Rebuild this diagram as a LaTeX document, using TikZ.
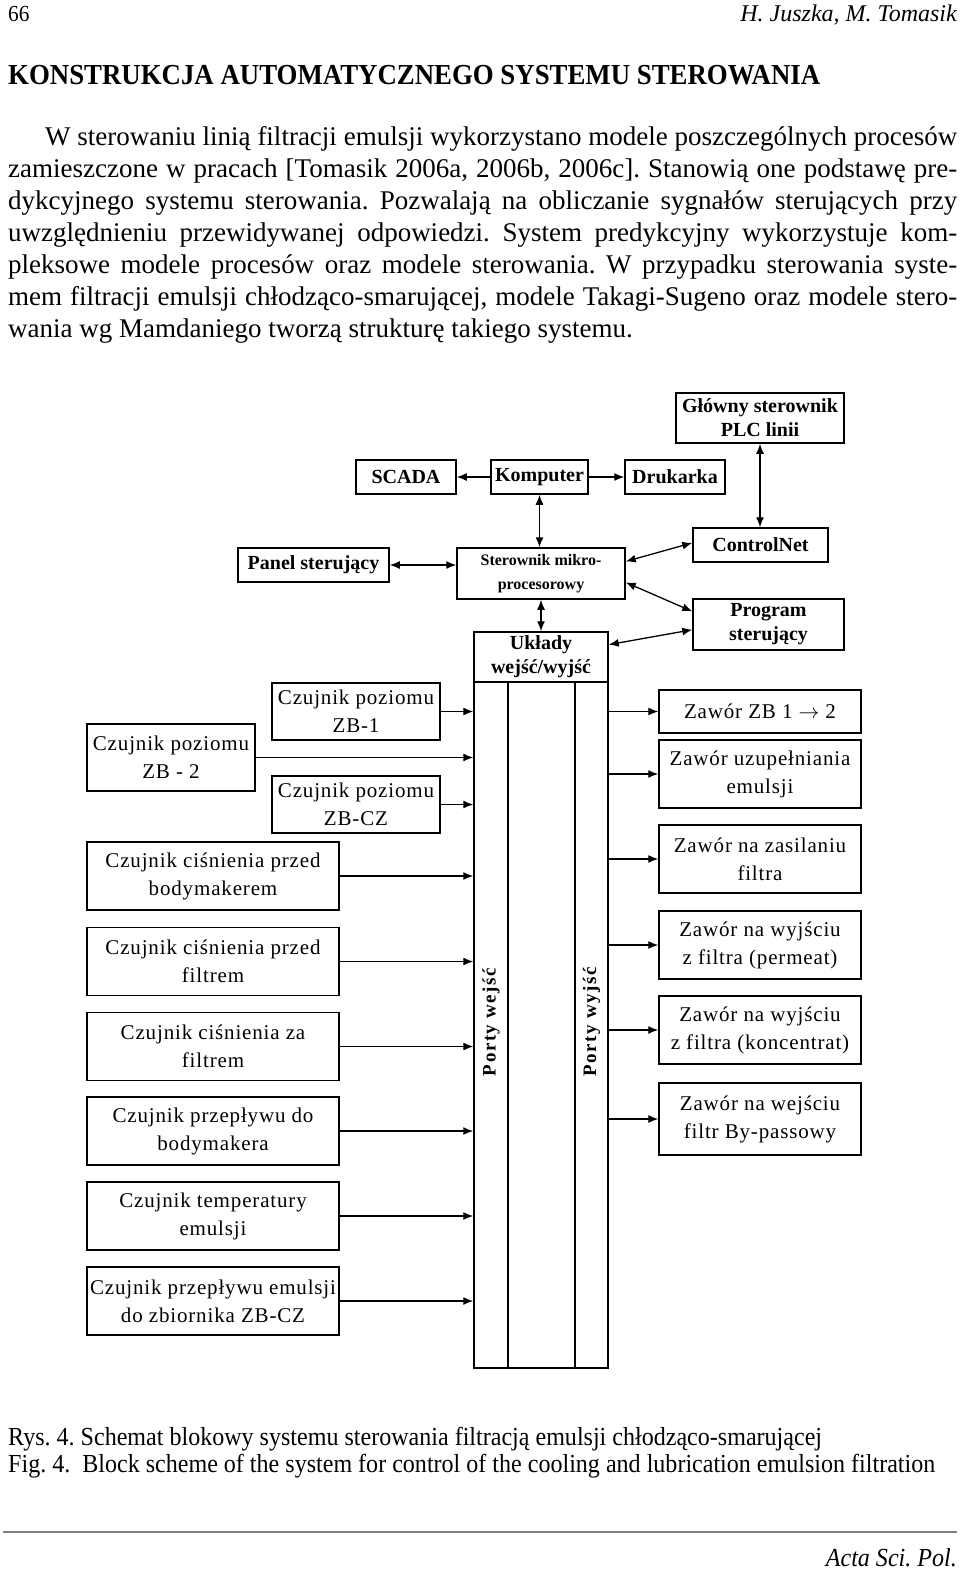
\documentclass[tikz,border=0pt]{standalone}
\usepackage{fontspec}
\setmainfont[FakeStretch=0.925]{Liberation Serif}
\newfontfamily\boxfont[LetterSpace=4]{Liberation Serif}
\newfontfamily\headfont{Liberation Serif}
\newfontfamily\portfont[LetterSpace=8]{Liberation Serif}
\usetikzlibrary{arrows.meta,calc}
\frenchspacing

\begin{document}
\begin{tikzpicture}[x=1pt,y=-1pt,
	blok/.style={draw,line width=1.5pt,inner sep=0pt,align=center,font=\boxfont\fontsize{21}{28}\selectfont},
	gblok/.style={draw,line width=1.5pt,inner sep=0pt,align=center,font=\headfont\bfseries\fontsize{20}{24}\selectfont},
	jed/.style={line width=1.3pt,-{Latex[length=10pt,width=8pt]}},
	dwu/.style={line width=1.3pt,{Latex[length=10pt,width=8pt]}-{Latex[length=10pt,width=8pt]}},
	tekst/.style={anchor=base west,inner sep=0pt,font=\headfont\fontsize{27}{32}\selectfont}]
		\useasboundingbox[fill=white] (0,0) rectangle (960,1569);
		% naglowek strony
		\node[anchor=base west,inner sep=0pt,font=\fontsize{23}{26}\selectfont] (nrstr) at (8,21) {66};
		\node[anchor=base east,inner sep=0pt,font=\headfont\fontsize{24}{26}\selectfont\itshape] (autorzy) at (957,21) {H. Juszka, M. Tomasik};
		\node[anchor=base west,inner sep=0pt,font=\fontsize{29}{34}\selectfont\bfseries] (tytul) at (8,84) {KONSTRUKCJA AUTOMATYCZNEGO SYSTEMU STEROWANIA};
		% akapit
		\node[tekst] (w1) at (45,145) {\makebox[912pt][s]{W sterowaniu linią filtracji emulsji wykorzystano modele poszczególnych procesów}};
		\node[tekst] (w2) at (8,177) {\makebox[949pt][s]{zamieszczone w pracach [Tomasik 2006a, 2006b, 2006c]. Stanowią one podstawę pre-}};
		\node[tekst] (w3) at (8,209) {\makebox[949pt][s]{dykcyjnego systemu sterowania. Pozwalają na obliczanie sygnałów sterujących przy}};
		\node[tekst] (w4) at (8,241) {\makebox[949pt][s]{uwzględnieniu przewidywanej odpowiedzi. System predykcyjny wykorzystuje kom-}};
		\node[tekst] (w5) at (8,273) {\makebox[949pt][s]{pleksowe modele procesów oraz modele sterowania. W przypadku sterowania syste-}};
		\node[tekst] (w6) at (8,305) {\makebox[949pt][s]{mem filtracji emulsji chłodząco-smarującej, modele Takagi-Sugeno oraz modele stero-}};
		\node[tekst] (w7) at (8,337) {wania wg Mamdaniego tworzą strukturę takiego systemu.};
		% gorna czesc schematu
		\node[gblok,minimum width=168pt,minimum height=50pt] (glowny) at (760,418) {Główny sterownik\\PLC linii};
		\node[gblok,minimum width=100pt,minimum height=34pt] (scada) at (406,477) {SCADA};
		\node[gblok,minimum width=97pt,minimum height=34pt] (komputer) at (539.5,477) {Komputer};
		\node[gblok,minimum width=100pt,minimum height=34pt] (drukarka) at (675,477) {Drukarka};
		\node[gblok,minimum width=151pt,minimum height=34pt] (panel) at (313.5,565) {Panel sterujący};
		\node[gblok,minimum width=168pt,minimum height=51pt,font=\headfont\bfseries\fontsize{16}{24}\selectfont] (mikro) at (541,573.5) {Sterownik mikro-\\procesorowy};
		\node[gblok,minimum width=135pt,minimum height=34pt] (controlnet) at (760.5,545) {ControlNet};
		\node[gblok,minimum width=151pt,minimum height=51pt] (program) at (768.5,624.5) {Program\\sterujący};
		\node[gblok,minimum width=134pt,minimum height=50pt] (uklady) at (541,657) {Układy\\wejść/wyjść};
		\node[draw,line width=1.5pt,minimum width=134pt,minimum height=686pt,inner sep=0pt] (porty) at (541,1025) {};
		\draw[line width=1.5pt] (508,682) -- (508,1368);
		\draw[line width=1.5pt] (575,682) -- (575,1368);
		\node[rotate=90,inner sep=0pt,font=\portfont\bfseries\fontsize{19}{22}\selectfont] (wejsc) at (491,1022) {Porty wejść};
		\node[rotate=90,inner sep=0pt,font=\portfont\bfseries\fontsize{19}{22}\selectfont] (wyjsc) at (591.5,1022) {Porty wyjść};
		\draw[jed] (komputer) -- (scada);
		\draw[jed] (komputer) -- (drukarka);
		\draw[dwu] (komputer.south) -- (komputer.south |- mikro.north);
		\draw[dwu] (glowny.south) -- (glowny.south |- controlnet.north);
		\draw[dwu] (panel.east) -- (panel.east -| mikro.west);
		\draw[dwu] ($(mikro.north east)!0.27!(mikro.south east)$) -- ($(controlnet.north west)!0.44!(controlnet.south west)$);
		\draw[dwu] ($(mikro.north east)!0.67!(mikro.south east)$) -- ($(program.north west)!0.25!(program.south west)$);
		\draw[dwu] (mikro.south) -- (mikro.south |- uklady.north);
		\draw[dwu] ($(uklady.north east)!0.26!(uklady.south east)$) -- ($(program.north west)!0.6!(program.south west)$);
		% czujniki
		\node[blok,minimum width=168pt,minimum height=57pt] (zb1) at (356,711.5) {Czujnik poziomu\\ZB-1};
		\node[blok,minimum width=168pt,minimum height=67pt] (zb2) at (171,757.5) {Czujnik poziomu\\ZB - 2};
		\node[blok,minimum width=168pt,minimum height=57pt] (zbcz) at (356,804.5) {Czujnik poziomu\\ZB-CZ};
		\node[blok,minimum width=252pt,minimum height=68pt] (cz1) at (213,876) {Czujnik ciśnienia przed\\bodymakerem};
		\node[blok,minimum width=252pt,minimum height=68pt] (cz2) at (213,961.5) {Czujnik ciśnienia przed\\filtrem};
		\node[blok,minimum width=252pt,minimum height=68pt] (cz3) at (213,1046.5) {Czujnik ciśnienia za\\filtrem};
		\node[blok,minimum width=252pt,minimum height=68pt] (cz4) at (213,1131) {Czujnik przepływu do\\bodymakera};
		\node[blok,minimum width=252pt,minimum height=68pt] (cz5) at (213,1216) {Czujnik temperatury\\emulsji};
		\node[blok,minimum width=252pt,minimum height=68pt] (cz6) at (213,1301) {Czujnik przepływu emulsji\\do zbiornika ZB-CZ};
		\foreach \c in {zb1,zb2,zbcz,cz1,cz2,cz3,cz4,cz5,cz6}
			\draw[jed] (\c.east) -- (\c.east -| porty.west);
		% zawory
		\node[blok,minimum width=202pt,minimum height=43pt] (za1) at (760,711.5) {Zawór ZB 1 $\rightarrow$ 2};
		\node[blok,minimum width=202pt,minimum height=68pt] (za2) at (760,774) {Zawór uzupełniania\\emulsji};
		\node[blok,minimum width=202pt,minimum height=68pt] (za3) at (760,859) {Zawór na zasilaniu\\filtra};
		\node[blok,minimum width=202pt,minimum height=68pt] (za4) at (760,945) {Zawór na wyjściu\\z filtra (permeat)};
		\node[blok,minimum width=202pt,minimum height=68pt] (za5) at (760,1030) {Zawór na wyjściu\\z filtra (koncentrat)};
		\node[blok,minimum width=202pt,minimum height=72pt] (za6) at (760,1119) {Zawór na wejściu\\filtr By-passowy};
		\foreach \z in {za1,za2,za3,za4,za5,za6}
			\draw[jed] (\z.west -| porty.east) -- (\z.west);
		% podpisy
		\node[tekst,font=\fontsize{26}{30}\selectfont] (rys) at (8,1445) {Rys. 4. Schemat blokowy systemu sterowania filtracją emulsji chłodząco-smarującej};
		\node[tekst,font=\fontsize{26}{30}\selectfont] (fig) at (8,1472) {Fig. 4.\ \ Block scheme of the system for control of the cooling and lubrication emulsion filtration};
		\draw[gray,line width=1.2pt] (3,1532) -- (957,1532);
		\node[anchor=base east,inner sep=0pt,font=\fontsize{26}{28}\selectfont\itshape] (acta) at (957,1566) {Acta Sci. Pol.};
\end{tikzpicture}
\end{document}
